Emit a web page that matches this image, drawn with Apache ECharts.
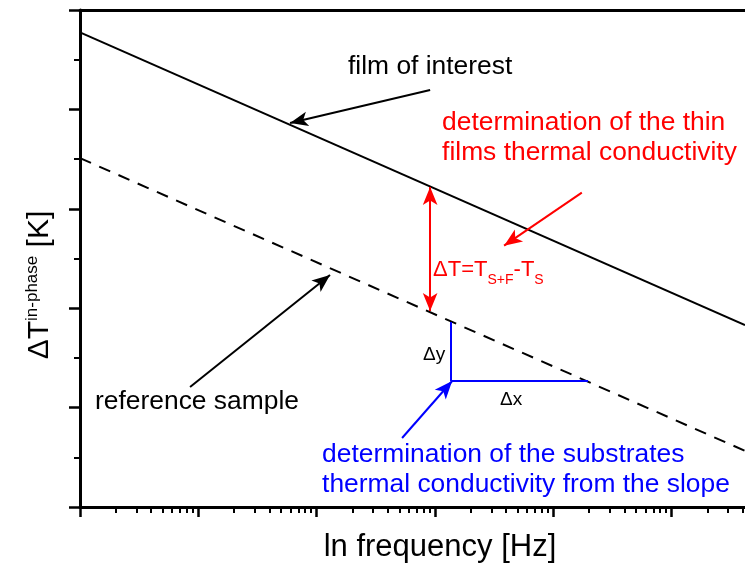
<!DOCTYPE html>
<html><head><meta charset="utf-8">
<script src="https://cdn.jsdelivr.net/npm/echarts@6/dist/echarts.min.js"></script>
<style>html,body{margin:0;padding:0;background:#fff}#c{width:745px;height:568px}</style>
</head><body><div id="c"></div>
<script>
// x: decades of frequency (log10 f), y: ΔT in-phase (arbitrary units)
const xRange = [0, 5.62];
const xEnds = [0, 5.62];
const filmOfInterest = [9.55, 3.66];
const referenceSample = [7.02, 1.13];
const xMajorTicks = [0, 1, 2, 3, 4, 5];
const yRange = [0, 10];

// annotation geometry in data units [x, y]
const blackArrows = [[[2.959, 8.390], [1.775, 7.726]], [[0.930, 2.414], [2.113, 4.668]]];
const redArrow = [[4.241, 6.324], [3.584, 5.258]];
const redDoubleArrow = [[2.959, 6.439], [2.959, 3.944]];
const blueArrow = [[2.722, 1.388], [3.145, 2.535]];
const blueLegs = [[3.136, 3.722], [3.136, 2.535], [4.294, 2.535]];

// annotation texts and anchors (left-middle)
const blackTexts = [['film of interest', [2.265, 8.853]], ['reference sample', [0.127, 2.113]], ['Δy', [2.899, 3.058]], ['Δx', [3.550, 2.153]]];
const redTexts = [['determination of the thin\nfilms thermal conductivity', [3.060, 7.425]], ['{m|ΔT=T}{s|S+F}{m|-T}{s|S}', [2.984, 4.769]]];
const blueTexts = [['determination of the substrates\nthermal conductivity from the slope', [2.046, 0.744]]];

const FONT = "'Liberation Sans', Arial, Helvetica, sans-serif";
const xMinorTicks = [];
for (let d = 0; d < 6; d++) for (let k = 2; k < 10; k++) { const v = d + Math.log10(k); if (v <= xRange[1]) xMinorTicks.push(v); }

function textSeries(items, color, arrows, arrowSymbol, plainSegs) {
  const ml = [];
  arrows.forEach(a => ml.push([{ coord: a[0], symbol: arrowSymbol[0] }, { coord: a[1], symbol: arrowSymbol[1] }]));
  (plainSegs || []).forEach(a => ml.push([{ coord: a[0], symbol: 'none' }, { coord: a[1], symbol: 'none' }]));
  return {
    type: 'scatter', symbolSize: 0, silent: true, z: 5,
    itemStyle: { opacity: 1, color: color },
    data: items.map(t => ({
      value: t[1],
      label: {
        show: true, position: [0, 0], align: 'left', verticalAlign: 'middle',
        formatter: t[0], opacity: 1,
        fontSize: (t[0] === 'Δy' || t[0] === 'Δx') ? 19 : 26.4,
        lineHeight: 30, color: color, fontFamily: FONT,
        rich: {
          m: { fontSize: 22, color: color, fontFamily: FONT },
          s: { fontSize: 14, color: color, fontFamily: FONT, padding: [20, 0, 0, 0] }
        }
      }
    })),
    emphasis: { disabled: true },
    markLine: {
      silent: true, animation: false,
      symbolSize: [11, 18],
      label: { show: false },
      itemStyle: { color: color, opacity: 1 },
      lineStyle: { color: color, width: 2, type: 'solid', opacity: 1 },
      emphasis: { disabled: true },
      data: ml
    }
  };
}

const chart = echarts.init(document.getElementById('c'));
const hiddenX = { axisLabel: { show: false }, splitLine: { show: false } };
chart.setOption({
  animation: false,
  backgroundColor: '#fff',
  grid: { left: 80, right: 0, top: 10, bottom: 61 },
  xAxis: [
    Object.assign({
      type: 'value', min: xRange[0], max: xRange[1], position: 'bottom',
      axisLine: { show: true, onZero: false, lineStyle: { color: '#000', width: 3 } },
      axisTick: { show: true, customValues: xMajorTicks, length: 10, lineStyle: { color: '#000', width: 2.5 } },
      name: 'ln frequency [Hz]', nameLocation: 'middle', nameGap: 25,
      nameTextStyle: { fontSize: 31, color: '#000', fontFamily: FONT, padding: [0, 0, 0, 55] }
    }, hiddenX),
    Object.assign({
      type: 'value', min: xRange[0], max: xRange[1], position: 'bottom',
      axisLine: { show: false, onZero: false },
      axisTick: { show: true, customValues: xMinorTicks, length: 6, lineStyle: { color: '#000', width: 2 } }
    }, hiddenX),
    Object.assign({
      type: 'value', min: xRange[0], max: xRange[1], position: 'top',
      axisLine: { show: true, onZero: false, lineStyle: { color: '#000', width: 3 } },
      axisTick: { show: false }
    }, hiddenX)
  ],
  yAxis: {
    type: 'value', min: yRange[0], max: yRange[1], interval: 2,
    axisLine: { show: true, onZero: false, lineStyle: { color: '#000', width: 3 } },
    axisTick: { show: true, length: 11, lineStyle: { color: '#000', width: 2.5 } },
    minorTick: { show: true, splitNumber: 2, length: 6, lineStyle: { color: '#000', width: 2 } },
    axisLabel: { show: false }, splitLine: { show: false }, minorSplitLine: { show: false },
    name: '{a|ΔT}{b|in-phase}{a| [K]}', nameLocation: 'middle', nameRotate: 90, nameGap: 24,
    nameTextStyle: {
      padding: [0, 53, 0, 0],
      rich: {
        a: { fontSize: 30, lineHeight: 32, color: '#000', fontFamily: FONT, verticalAlign: 'middle' },
        b: { fontSize: 17, lineHeight: 17, color: '#000', fontFamily: FONT, verticalAlign: 'top' }
      }
    }
  },
  series: [
    { type: 'line', name: 'film of interest', showSymbol: false, silent: true, clip: true,
      data: xEnds.map((x, i) => [x, filmOfInterest[i]]),
      lineStyle: { color: '#000', width: 2 } },
    { type: 'line', name: 'reference sample', showSymbol: false, silent: true, clip: true,
      data: xEnds.map((x, i) => [x, referenceSample[i]]),
      lineStyle: { color: '#000', width: 2, type: [12, 9] } },
    textSeries(blackTexts, '#000000', blackArrows, ['none', 'arrow']),
    textSeries(redTexts, '#ff0000', [redArrow], ['none', 'arrow']),
    textSeries([], '#ff0000', [redDoubleArrow], ['arrow', 'arrow']),
    textSeries(blueTexts, '#0000ff', [blueArrow], ['none', 'arrow'], [[blueLegs[0], blueLegs[1]], [blueLegs[1], blueLegs[2]]])
  ]
});
</script></body></html>
